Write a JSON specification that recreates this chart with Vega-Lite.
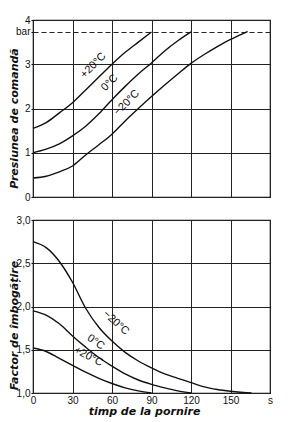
{
  "$schema": "https://vega.github.io/schema/vega-lite/v6.json",
  "padding": {"left": 7, "top": 14, "right": 5, "bottom": 0},
  "background": "white",
  "spacing": 11,
  "config": {
    "view": {"stroke": "#111", "strokeWidth": 1.2},
    "axis": {
      "gridColor": "#222", "gridWidth": 1, "gridOpacity": 1, "tickCount": 30,
      "domain": false, "tickColor": "#111", "tickSize": 2, "labelPadding": 1,
      "labelOverlap": false, "labelBound": false, "labelFlush": false,
      "labelFont": "Liberation Sans", "labelFontSize": 10, "labelColor": "#111",
      "titleFont": "DejaVu Sans", "titleFontStyle": "italic", "titleFontWeight": "bold",
      "titleFontSize": 11, "titleColor": "#111"
    },
    "line": {"color": "#111", "strokeWidth": 1.4, "interpolate": "monotone"},
    "text": {"font": "Liberation Sans", "fontSize": 11, "color": "#111", "align": "center", "baseline": "middle"}
  },
  "datasets": {
    "top": [
      {"series": "+20", "t": 0, "v": 1.55}, {"series": "+20", "t": 10, "v": 1.68}, {"series": "+20", "t": 20, "v": 1.9}, {"series": "+20", "t": 30, "v": 2.13}, {"series": "+20", "t": 40, "v": 2.42}, {"series": "+20", "t": 50, "v": 2.71}, {"series": "+20", "t": 60, "v": 3.0}, {"series": "+20", "t": 70, "v": 3.27}, {"series": "+20", "t": 80, "v": 3.5}, {"series": "+20", "t": 90, "v": 3.73},
      {"series": "0", "t": 0, "v": 1.0}, {"series": "0", "t": 10, "v": 1.08}, {"series": "0", "t": 20, "v": 1.2}, {"series": "0", "t": 30, "v": 1.38}, {"series": "0", "t": 40, "v": 1.6}, {"series": "0", "t": 50, "v": 1.88}, {"series": "0", "t": 60, "v": 2.2}, {"series": "0", "t": 70, "v": 2.5}, {"series": "0", "t": 80, "v": 2.78}, {"series": "0", "t": 90, "v": 3.03}, {"series": "0", "t": 100, "v": 3.3}, {"series": "0", "t": 110, "v": 3.53}, {"series": "0", "t": 120, "v": 3.73},
      {"series": "-20", "t": 0, "v": 0.43}, {"series": "-20", "t": 10, "v": 0.47}, {"series": "-20", "t": 20, "v": 0.57}, {"series": "-20", "t": 30, "v": 0.7}, {"series": "-20", "t": 40, "v": 0.95}, {"series": "-20", "t": 50, "v": 1.18}, {"series": "-20", "t": 60, "v": 1.42}, {"series": "-20", "t": 70, "v": 1.72}, {"series": "-20", "t": 80, "v": 2.0}, {"series": "-20", "t": 90, "v": 2.27}, {"series": "-20", "t": 100, "v": 2.53}, {"series": "-20", "t": 110, "v": 2.78}, {"series": "-20", "t": 120, "v": 3.02}, {"series": "-20", "t": 130, "v": 3.22}, {"series": "-20", "t": 140, "v": 3.4}, {"series": "-20", "t": 150, "v": 3.56}, {"series": "-20", "t": 160, "v": 3.7}, {"series": "-20", "t": 163, "v": 3.74}
    ],
    "topLabels": [
      {"label": "+20°C", "t": 48.5, "v": 2.89},
      {"label": "0°C", "t": 61, "v": 2.5},
      {"label": "−20°C", "t": 74, "v": 2.05}
    ],
    "bottom": [
      {"series": "-20", "t": 0, "v": 2.75}, {"series": "-20", "t": 10, "v": 2.68}, {"series": "-20", "t": 20, "v": 2.52}, {"series": "-20", "t": 30, "v": 2.28}, {"series": "-20", "t": 40, "v": 1.98}, {"series": "-20", "t": 50, "v": 1.76}, {"series": "-20", "t": 60, "v": 1.6}, {"series": "-20", "t": 70, "v": 1.47}, {"series": "-20", "t": 80, "v": 1.37}, {"series": "-20", "t": 90, "v": 1.29}, {"series": "-20", "t": 100, "v": 1.22}, {"series": "-20", "t": 110, "v": 1.17}, {"series": "-20", "t": 120, "v": 1.12}, {"series": "-20", "t": 130, "v": 1.07}, {"series": "-20", "t": 140, "v": 1.04}, {"series": "-20", "t": 150, "v": 1.02}, {"series": "-20", "t": 160, "v": 1.005}, {"series": "-20", "t": 166, "v": 1.0},
      {"series": "0", "t": 0, "v": 1.95}, {"series": "0", "t": 10, "v": 1.9}, {"series": "0", "t": 20, "v": 1.8}, {"series": "0", "t": 30, "v": 1.66}, {"series": "0", "t": 40, "v": 1.53}, {"series": "0", "t": 50, "v": 1.41}, {"series": "0", "t": 60, "v": 1.31}, {"series": "0", "t": 70, "v": 1.22}, {"series": "0", "t": 80, "v": 1.15}, {"series": "0", "t": 90, "v": 1.1}, {"series": "0", "t": 100, "v": 1.06}, {"series": "0", "t": 110, "v": 1.025}, {"series": "0", "t": 120, "v": 1.0},
      {"series": "+20", "t": 0, "v": 1.52}, {"series": "+20", "t": 10, "v": 1.48}, {"series": "+20", "t": 20, "v": 1.4}, {"series": "+20", "t": 30, "v": 1.32}, {"series": "+20", "t": 40, "v": 1.24}, {"series": "+20", "t": 50, "v": 1.17}, {"series": "+20", "t": 60, "v": 1.11}, {"series": "+20", "t": 70, "v": 1.06}, {"series": "+20", "t": 80, "v": 1.025}, {"series": "+20", "t": 90, "v": 1.0}
    ],
    "bottomLabels": [
      {"label": "−20°C", "t": 60, "v": 1.76, "a": 42},
      {"label": "0°C", "t": 45, "v": 1.53, "a": 35},
      {"label": "+20°C", "t": 40, "v": 1.36, "a": 28}
    ]
  },
  "vconcat": [
    {
      "width": 237,
      "height": 177,
      "layer": [
        {
          "data": {"name": "top"},
          "mark": {"type": "line"},
          "encoding": {
            "x": {"field": "t", "type": "quantitative", "scale": {"domain": [0, 180], "nice": false},
              "axis": {"values": [0, 30, 60, 90, 120, 150, 180], "labels": false, "ticks": false, "title": null}},
            "y": {"field": "v", "type": "quantitative", "scale": {"domain": [0, 4], "nice": false},
              "axis": {"values": [0, 1, 2, 3, 3.73, 4],
                "labelExpr": "datum.value == 3.73 ? 'bar' : format(datum.value, 'd')",
                "gridDash": {"condition": {"test": "datum.value == 3.73", "value": [5, 3]}, "value": []},
                "title": "Presiunea de comandă", "titleX": -19, "titleY": 98, "titleBaseline": "middle", "titleAngle": 270}},
            "detail": {"field": "series"}
          }
        },
        {
          "data": {"name": "topLabels"},
          "mark": {"type": "text", "angle": 315, "dy": -5},
          "encoding": {
            "x": {"field": "t", "type": "quantitative"},
            "y": {"field": "v", "type": "quantitative"},
            "text": {"field": "label"}
          }
        }
      ]
    },
    {
      "width": 237,
      "height": 173,
      "layer": [
        {
          "data": {"name": "bottom"},
          "mark": {"type": "line"},
          "encoding": {
            "x": {"field": "t", "type": "quantitative", "scale": {"domain": [0, 180], "nice": false},
              "axis": {"values": [0, 30, 60, 90, 120, 150, 180], "labelExpr": "datum.value == 180 ? 's' : datum.label",
                "ticks": false, "labelPadding": 2, "title": "timp de la pornire", "titlePadding": 0, "titleX": 111}},
            "y": {"field": "v", "type": "quantitative", "scale": {"domain": [1, 3], "nice": false},
              "axis": {"values": [1, 1.5, 2, 2.5, 3],
                "labelExpr": "replace(format(datum.value, '.1f'), '.', ',')",
                "title": "Factor de îmbogățire", "titleX": -19, "titleY": 105, "titleBaseline": "middle", "titleAngle": 270}},
            "detail": {"field": "series"}
          }
        },
        {
          "data": {"name": "bottomLabels"},
          "mark": {"type": "text", "dy": -6},
          "encoding": {
            "x": {"field": "t", "type": "quantitative"},
            "y": {"field": "v", "type": "quantitative"},
            "angle": {"field": "a", "type": "quantitative", "scale": null},
            "text": {"field": "label"}
          }
        }
      ]
    }
  ]
}
